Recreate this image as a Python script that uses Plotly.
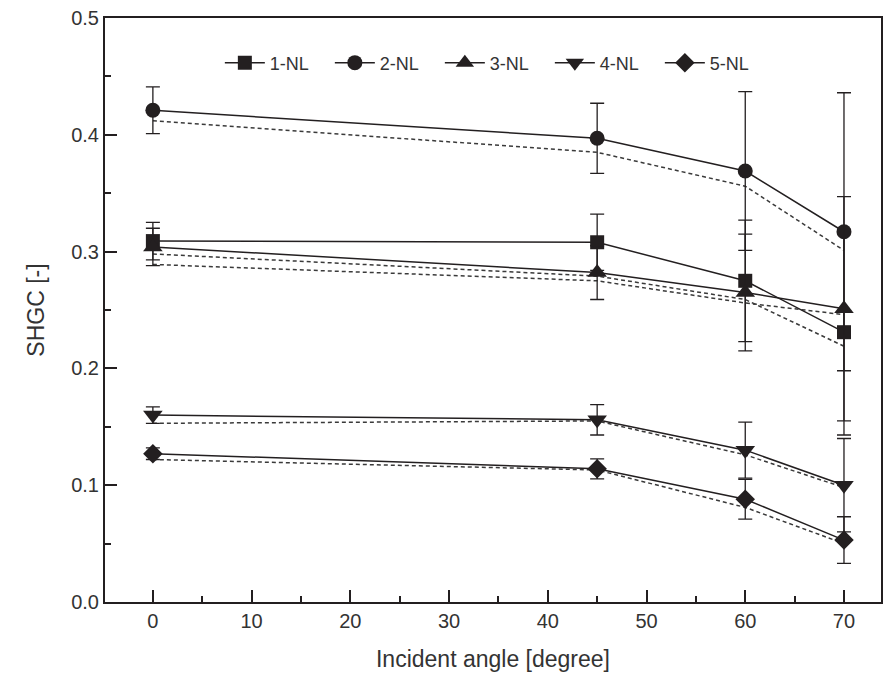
import plotly.graph_objects as go

angles = [0, 45, 60, 70]
series_names = ["1-NL", "2-NL", "3-NL", "4-NL", "5-NL"]
symbols = ["square", "circle", "triangle-up", "triangle-down", "diamond"]

# measured (solid, with markers)
nl1 = [0.309, 0.308, 0.275, 0.231]
nl2 = [0.421, 0.397, 0.369, 0.317]
nl3 = [0.304, 0.282, 0.265, 0.251]
nl4 = [0.160, 0.156, 0.130, 0.100]
nl5 = [0.127, 0.114, 0.088, 0.053]

# error bar half-widths
err1 = [0.016, 0.024, 0.052, 0.088]
err2 = [0.020, 0.030, 0.068, 0.119]
err3 = [0.016, 0.023, 0.050, 0.096]
err4 = [0.007, 0.013, 0.024, 0.040]
err5 = [0.005, 0.0085, 0.017, 0.020]

# simulated (dashed)
sim1 = [0.298, 0.279, 0.259, 0.219]
sim2 = [0.412, 0.385, 0.356, 0.301]
sim3 = [0.289, 0.275, 0.256, 0.246]
sim4 = [0.153, 0.155, 0.126, 0.098]
sim5 = [0.122, 0.113, 0.081, 0.050]

x_ticks = [0, 10, 20, 30, 40, 50, 60, 70]
y_ticks = [0.0, 0.1, 0.2, 0.3, 0.4, 0.5]

meas = [nl1, nl2, nl3, nl4, nl5]
errs = [err1, err2, err3, err4, err5]
sims = [sim1, sim2, sim3, sim4, sim5]
msizes = [14, 15, 17, 17, 15]

ink = "#231f20"
font_family = "Liberation Sans, Arial, sans-serif"
fig = go.Figure()

for s in sims:
    fig.add_trace(go.Scatter(
        x=angles, y=s, mode="lines", showlegend=False, hoverinfo="skip",
        line=dict(color="#3a3a3a", width=1.5, dash="4px,3px")))

for name, sym, m, e, ms in zip(series_names, symbols, meas, errs, msizes):
    fig.add_trace(go.Scatter(
        x=angles, y=m, mode="lines+markers", name=name,
        line=dict(color=ink, width=1.5),
        marker=dict(symbol=sym, size=ms, color=ink, line=dict(width=0)),
        error_y=dict(type="data", array=e, visible=True, color=ink,
                     thickness=1.3, width=7)))

axis_common = dict(
    showline=True, linecolor=ink, linewidth=2, mirror=True,
    ticks="inside", tickcolor=ink, tickwidth=2, ticklen=12,
    showgrid=False, zeroline=False,
    tickfont=dict(family=font_family, size=20, color="#333"),
)

fig.update_xaxes(
    range=[-4.85, 73.75], tickvals=x_ticks,
    minor=dict(ticks="inside", ticklen=6, tickwidth=2, tickcolor=ink, dtick=5, tick0=0),
    title=dict(text="Incident angle [degree]", standoff=20,
               font=dict(family=font_family, size=23, color="#333")),
    **axis_common)
fig.update_yaxes(
    range=[0, 0.5], tickvals=y_ticks, tickformat=".1f",
    minor=dict(ticks="inside", ticklen=6, tickwidth=2, tickcolor=ink, dtick=0.05, tick0=0),
    title=dict(text="SHGC [-]", standoff=20,
               font=dict(family=font_family, size=23, color="#333")),
    **axis_common)

fig.update_layout(
    width=886, height=683,
    margin=dict(l=105, r=3, t=18, b=81),
    plot_bgcolor="white", paper_bgcolor="white",
    legend=dict(orientation="h", x=0.148, y=0.923, xanchor="left", yanchor="middle",
                bgcolor="rgba(0,0,0,0)", entrywidth=55, itemwidth=40,
                font=dict(family=font_family, size=18, color="#333")),
)

fig.write_html("out.html")
